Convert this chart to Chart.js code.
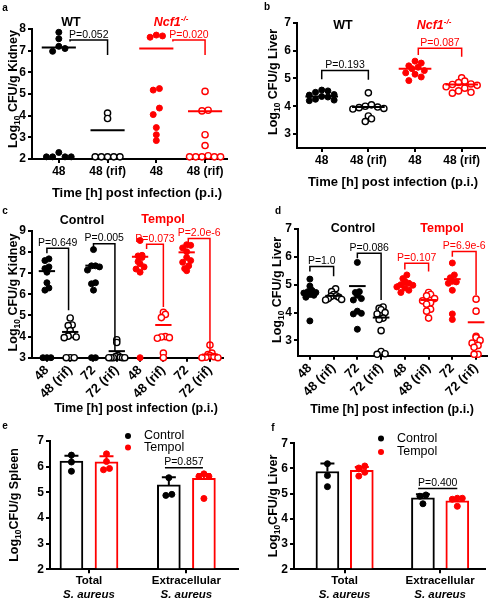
<!DOCTYPE html>
<html>
<head>
<meta charset="utf-8">
<script src="https://cdn.jsdelivr.net/npm/chart.js@4.4.1/dist/chart.umd.min.js"></script>
<style>
  body { margin: 0; background: #fff; }
  #fig { position: relative; width: 494px; height: 600px; overflow: hidden; font-family: "Liberation Sans", Arial, sans-serif; }
  #fig canvas { position: absolute; }
  .t { position: absolute; transform: translate(-50%, -50%); font-weight: bold; white-space: nowrap; line-height: 1; color: #000; }
  .let { font-size: 10px; }
  .hd { font-size: 12.5px; }
  .red { color: #ff0000; }
  .t sup { font-size: 8px; vertical-align: 5px; line-height: 0; }
</style>
</head>
<body>
<div id="fig">
  <canvas id="cA" width="247" height="200" style="left:0;top:0"></canvas>
  <canvas id="cB" width="247" height="200" style="left:247px;top:0"></canvas>
  <canvas id="cC" width="247" height="216" style="left:0;top:200px"></canvas>
  <canvas id="cD" width="247" height="216" style="left:247px;top:200px"></canvas>
  <canvas id="cE" width="247" height="184" style="left:0;top:416px"></canvas>
  <canvas id="cF" width="247" height="184" style="left:247px;top:416px"></canvas>

  <div class="t let" style="left:5px;top:8px">a</div>
  <div class="t let" style="left:267px;top:7px">b</div>
  <div class="t let" style="left:5px;top:211px">c</div>
  <div class="t let" style="left:278px;top:211px">d</div>
  <div class="t let" style="left:5px;top:426px">e</div>
  <div class="t let" style="left:273px;top:428px">f</div>

  <div class="t hd" style="left:71px;top:22px">WT</div>
  <div class="t hd red" style="left:171px;top:22px"><i>Ncf1<sup>-/-</sup></i></div>
  <div class="t hd" style="left:343px;top:25px">WT</div>
  <div class="t hd red" style="left:434px;top:25px"><i>Ncf1<sup>-/-</sup></i></div>
  <div class="t hd" style="left:82px;top:220px">Control</div>
  <div class="t hd red" style="left:163px;top:219px">Tempol</div>
  <div class="t hd" style="left:353px;top:228px">Control</div>
  <div class="t hd red" style="left:442px;top:228px">Tempol</div>
</div>
<script>
const RED = "#ff0000";
const BLACK = "#000000";
const FONT = '"Liberation Sans", Arial, sans-serif';

// ---- a: kidney, WT vs Ncf1-/- ----
const catsA = ["48", "48 (rif)", "48", "48 (rif)"];
const yTicksA = [2, 3, 4, 5, 6, 7, 8];
const aWt48 = [7.85, 7.55, 7.2, 7.1, 6.97, 2.3, 2.1, 2.1, 2.1, 2.1];
const aWtRif = [4.12, 3.87, 2.1, 2.1, 2.1, 2.1, 2.1];
const aNcf48 = [7.72, 7.62, 7.68, 5.25, 5.18, 4.35, 4.05, 3.45, 3.12, 2.85];
const aNcfRif = [5.12, 4.25, 4.22, 3.12, 2.62, 2.15, 2.1, 2.1, 2.1, 2.1, 2.1];
const meansA = [7.15, 3.33, 7.1, 4.2];
const pA = ["P=0.052", "P=0.020"];

// ---- b: liver, WT vs Ncf1-/- ----
const catsB = ["48", "48 (rif)", "48", "48 (rif)"];
const yTicksB = [3, 4, 5, 6, 7];
const bWt48 = [4.58, 4.55, 4.5, 4.42, 4.4, 4.35, 4.33, 4.25, 4.22, 4.2];
const bWtRif = [4.48, 4.05, 4.0, 3.97, 3.95, 3.92, 3.9, 3.65, 3.55, 3.45];
const bNcf48 = [5.62, 5.55, 5.45, 5.4, 5.35, 5.28, 5.2, 5.15, 5.05, 4.92];
const bNcfRif = [5.02, 4.9, 4.85, 4.8, 4.78, 4.75, 4.7, 4.65, 4.55, 4.5, 4.47];
const meansB = [4.35, 3.97, 5.35, 4.78];
const pB = ["P=0.193", "P=0.087"];

// ---- c: kidney, Control vs Tempol ----
const catsC = ["48", "48 (rif)", "72", "72 (rif)", "48", "48 (rif)", "72", "72 (rif)"];
const yTicksC = [3, 4, 5, 6, 7, 8, 9];
const cCtl48 = [7.68, 7.6, 7.3, 7.22, 7.05, 6.55, 6.3, 6.2, 3.0, 3.0, 3.0];
const cCtl48r = [4.88, 4.55, 4.52, 4.28, 4.1, 4.02, 3.98, 3.95, 3.0, 3.0, 3.0];
const cCtl72 = [8.12, 7.35, 7.35, 7.3, 7.15, 6.55, 6.5, 6.2, 3.0, 3.0];
const cCtl72r = [3.85, 3.72, 3.1, 3.05, 3.02, 3.0, 3.0, 3.0, 3.0, 3.0];
const cTem48 = [8.55, 7.85, 7.82, 7.75, 7.55, 7.45, 7.3, 7.2, 7.05, 3.0];
const cTem48r = [5.15, 5.05, 4.9, 4.0, 3.98, 3.95, 3.92, 3.22, 3.0];
const cTem72 = [8.35, 8.32, 8.2, 8.02, 7.75, 7.6, 7.52, 7.35, 7.22, 7.12];
const cTem72r = [3.6, 3.22, 3.15, 3.1, 3.05, 3.02, 3.0, 3.0];
const meansC = [7.1, 4.22, 7.36, 3.31, 7.78, 4.55, 7.99, 3.15];
const pC = ["P=0.649", "P=0.005", "P=0.073", "P=2.0e-6"];

// ---- d: liver, Control vs Tempol ----
const catsD = catsC;
const yTicksD = [3, 4, 5, 6, 7];
const dCtl48 = [5.2, 4.95, 4.8, 4.75, 4.72, 4.7, 4.65, 4.62, 4.55, 3.7];
const dCtl48r = [4.85, 4.75, 4.65, 4.6, 4.58, 4.55, 4.5, 4.47, 4.45];
const dCtl72 = [5.8, 4.75, 4.72, 4.62, 4.5, 4.45, 4.05, 3.97, 3.95, 3.4];
const dCtl72r = [4.2, 4.15, 4.1, 4.0, 3.95, 3.8, 3.75, 3.35, 2.6, 2.52, 2.5];
const dTem48 = [5.35, 5.22, 5.12, 5.05, 5.0, 4.98, 4.92, 4.88, 4.8, 4.72];
const dTem48r = [4.72, 4.65, 4.6, 4.5, 4.42, 4.35, 4.3, 4.12, 4.05, 3.8];
const dTem72 = [5.78, 5.35, 5.25, 5.12, 5.1, 5.05, 4.8, 3.95, 3.75];
const dTem72r = [4.48, 4.05, 3.15, 3.1, 3.0, 2.9, 2.82, 2.75, 2.5, 2.5];
const meansD = [4.75, 4.6, 4.95, 3.82, 5.02, 4.45, 5.2, 3.65];
const pD = ["P=1.0", "P=0.086", "P=0.107", "P=6.9e-6"];

// ---- e / f: bars, total vs extracellular ----
const barGroups = ["Total", "Extracellular"];
const barSub = "S. aureus";
const legendNames = ["Control", "Tempol"];
const yTicksEF = [2, 3, 4, 5, 6, 7];
const eCtlBar = [6.22, 5.29];
const eCtlSd = [0.21, 0.3];
const eTemBar = [6.19, 5.55];
const eTemSd = [0.22, 0.16];
const eCtlPts = [[6.45, 6.18, 5.82], [5.57, 4.88, 4.92]];
const eTemPts = [[6.5, 6.2, 5.93, 5.88], [5.62, 5.62, 5.72, 4.76]];
const pE = "P=0.857";
const fCtlBar = [5.88, 4.84];
const fCtlSd = [0.32, 0.14];
const fTemBar = [5.93, 4.72];
const fTemSd = [0.13, 0.09];
const fCtlPts = [[6.19, 5.72, 5.28], [4.95, 4.9, 4.6]];
const fTemPts = [[6.1, 6.02, 5.85, 5.7], [4.82, 4.82, 4.78, 4.5]];
const pF = "P=0.400";

// Prism-like scatter: points falling in the same height bin sit side by side
function rowOffsets(values, pxX, pxY, maxRow, step) {
  const bins = {};
  values.forEach((v, k) => {
    const b = Math.round((v * pxY) / 7);
    (bins[b] = bins[b] || []).push(k);
  });
  const offs = values.map(() => 0);
  Object.values(bins).forEach(ks => {
    const n = ks.length;
    if (n < 2) return;
    const s = Math.min(step, maxRow / (n - 1));
    ks.sort((p, q) => values[q] - values[p]);
    const mid = (n - 1) / 2;
    const slots = [];
    for (let j = 0; j < n; j++) slots.push(j);
    slots.sort((p, q) => Math.abs(p - mid) - Math.abs(q - mid) || q - p);
    ks.forEach((k, j) => { offs[k] = ((slots[j] - mid) * s) / pxX; });
  });
  return offs;
}

function boldFont(size) {
  return { family: FONT, size: size, weight: "bold" };
}

function baseScales(p, xTickCb, rot) {
  const grid = { drawOnChartArea: false, color: BLACK, lineWidth: 2, tickLength: 4, offset: false };
  const border = { color: BLACK, width: 2 };
  return {
    x: {
      type: "linear", min: p.xr[0], max: p.xr[1], offset: false,
      afterBuildTicks: s => { s.ticks = p.xTicks.map(v => ({ value: v })); },
      afterFit: s => { s.height = p.box.t + p.box.h - p.area.b; },
      ticks: { callback: xTickCb, autoSkip: false, maxRotation: rot, minRotation: rot, color: BLACK, font: boldFont(rot ? 13 : 12), padding: 1 },
      grid: grid, border: border,
    },
    y: {
      min: p.yr[0], max: p.yr[1], offset: false,
      afterBuildTicks: s => { s.ticks = p.yTicks.map(v => ({ value: v })); },
      afterFit: s => { s.width = p.area.l - p.box.l; },
      ticks: { color: BLACK, font: boldFont(12), padding: 2 },
      grid: grid, border: border,
    },
  };
}

function baseOptions(p, scales) {
  return {
    responsive: false,
    animation: false,
    events: [],
    layout: { padding: { top: p.area.t - p.box.t, right: p.box.l + p.box.w - p.area.r, left: 0, bottom: 0 } },
    plugins: { legend: { display: false }, tooltip: { enabled: false } },
    scales: scales,
  };
}

function drawYTitle(ctx, cx, cy, rest) {
  ctx.save();
  ctx.translate(cx, cy);
  ctx.rotate(-Math.PI / 2);
  const big = "bold 12.5px " + FONT, small = "bold 8.5px " + FONT;
  ctx.font = big;
  const w1 = ctx.measureText("Log").width, w3 = ctx.measureText(rest).width;
  ctx.font = small;
  const w2 = ctx.measureText("10").width;
  const sx = -(w1 + w2 + w3) / 2;
  ctx.fillStyle = BLACK;
  ctx.textAlign = "left";
  ctx.textBaseline = "alphabetic";
  ctx.font = big; ctx.fillText("Log", sx, 4.5);
  ctx.font = small; ctx.fillText("10", sx + w1, 7.5);
  ctx.font = big; ctx.fillText(rest, sx + w1 + w2, 4.5);
  ctx.restore();
}

function drawBracket(ctx, x, y, b) {
  const xa = x.getPixelForValue(b.x1), xb = x.getPixelForValue(b.x2), yt = y.getPixelForValue(b.y);
  ctx.strokeStyle = b.color;
  ctx.lineWidth = 1.5;
  ctx.beginPath();
  ctx.moveTo(xa, b.y1 == null ? yt : y.getPixelForValue(b.y1));
  ctx.lineTo(xa, yt);
  ctx.lineTo(xb, yt);
  ctx.lineTo(xb, b.y2 == null ? yt : y.getPixelForValue(b.y2));
  ctx.stroke();
  ctx.fillStyle = b.color;
  ctx.font = "10.5px " + FONT;
  ctx.textAlign = "center";
  ctx.textBaseline = "alphabetic";
  ctx.fillText(b.text, (xa + xb) / 2, yt - 2.5);
}

function overlay(p) {
  return {
    id: "overlay",
    beforeDatasetsDraw(chart) {
      if (!p.errors) return;
      const { ctx, scales: { x, y } } = chart;
      ctx.save();
      p.errors.forEach(e => {
        const cx = x.getPixelForValue(e.x), y0 = y.getPixelForValue(e.mean), y1 = y.getPixelForValue(e.mean + e.sd);
        ctx.strokeStyle = e.color;
        ctx.lineWidth = 2;
        ctx.beginPath();
        ctx.moveTo(cx, y0); ctx.lineTo(cx, y1);
        ctx.moveTo(cx - 7, y1); ctx.lineTo(cx + 7, y1);
        ctx.stroke();
      });
      ctx.restore();
    },
    afterDatasetsDraw(chart) {
      const { ctx, scales: { x, y } } = chart;
      ctx.save();
      (p.means || []).forEach((m, i) => {
        const ym = y.getPixelForValue(m);
        ctx.strokeStyle = p.groups[i].color;
        ctx.lineWidth = 2;
        ctx.beginPath();
        ctx.moveTo(x.getPixelForValue(i - 0.35), ym);
        ctx.lineTo(x.getPixelForValue(i + 0.35), ym);
        ctx.stroke();
      });
      p.brackets.forEach(b => drawBracket(ctx, x, y, b));
      if (p.xTitle) {
        ctx.fillStyle = BLACK;
        ctx.font = "bold " + p.xTitle.size + "px " + FONT;
        ctx.textAlign = "center";
        ctx.textBaseline = "middle";
        ctx.fillText(p.xTitle.text, p.xTitle.x - p.box.l, p.xTitle.y - p.box.t);
      }
      drawYTitle(ctx, p.yTitle.x - p.box.l, p.yTitle.y - p.box.t, p.yTitle.text);
      if (p.cats2) {
        ctx.fillStyle = BLACK;
        ctx.textAlign = "center";
        ctx.textBaseline = "middle";
        p.cats2.forEach((c, i) => {
          const cx = x.getPixelForValue(i);
          ctx.font = "bold 11.5px " + FONT;
          ctx.fillText(c, cx, p.catY[0] - p.box.t);
          ctx.font = "italic bold 11.5px " + FONT;
          ctx.fillText(barSub, cx, p.catY[1] - p.box.t);
        });
      }
      if (p.legend) {
        ctx.textAlign = "left";
        ctx.textBaseline = "middle";
        ctx.font = "12.5px " + FONT;
        p.legend.items.forEach((it, k) => {
          const lx = p.legend.x - p.box.l, ly = p.legend.y[k] - p.box.t;
          ctx.fillStyle = it.color;
          ctx.beginPath();
          ctx.arc(lx, ly, 3, 0, Math.PI * 2);
          ctx.fill();
          ctx.fillStyle = BLACK;
          ctx.fillText(it.name, lx + p.legend.gap, ly);
        });
      }
      ctx.restore();
    },
  };
}

function scatterPanel(p) {
  const pxX = (p.area.r - p.area.l) / (p.xr[1] - p.xr[0]);
  const pxY = (p.area.b - p.area.t) / (p.yr[1] - p.yr[0]);
  p.xTicks = p.cats.map((c, i) => i);
  const datasets = p.groups.map((g, i) => {
    const offs = rowOffsets(g.values, pxX, pxY, p.maxRow, p.step);
    return {
      data: g.values.map((v, k) => ({ x: i + offs[k], y: v })),
      pointRadius: g.open ? 3.1 : 3,
      pointBackgroundColor: g.open ? "#ffffff" : g.color,
      pointBorderColor: g.color,
      pointBorderWidth: g.open ? 1.4 : 1,
      showLine: false,
      clip: false,
    };
  });
  const scales = baseScales(p, v => p.cats[v] ?? "", p.rot);
  new Chart(document.getElementById(p.id), {
    type: "scatter",
    data: { datasets: datasets },
    options: baseOptions(p, scales),
    plugins: [overlay(p)],
  });
}

function barPanel(p) {
  const pxX = (p.area.r - p.area.l) / (p.xr[1] - p.xr[0]);
  const pxY = (p.area.b - p.area.t) / (p.yr[1] - p.yr[0]);
  const off = 0.18;
  p.xTicks = barGroups.map((g, i) => i);
  p.cats2 = barGroups;
  const series = [
    { name: legendNames[0], color: BLACK, bars: p.ctlBar, sd: p.ctlSd, pts: p.ctlPts, dx: -off },
    { name: legendNames[1], color: RED, bars: p.temBar, sd: p.temSd, pts: p.temPts, dx: off },
  ];
  const datasets = [];
  p.errors = [];
  series.forEach(s => {
    const dots = [];
    s.pts.forEach((vals, i) => {
      const offs = rowOffsets(vals, pxX, pxY, 10, 6);
      vals.forEach((v, k) => dots.push({ x: i + s.dx + offs[k], y: v }));
    });
    datasets.push({
      type: "scatter", data: dots, order: 1, clip: false, showLine: false,
      pointRadius: 3, pointBackgroundColor: s.color, pointBorderColor: s.color, pointBorderWidth: 1,
    });
    datasets.push({
      type: "bar", order: 2, grouped: false, base: p.yr[0],
      data: s.bars.map((v, i) => ({ x: i + s.dx, y: v })),
      backgroundColor: "#ffffff", borderColor: s.color, borderWidth: 2, borderSkipped: "start", barThickness: 23,
    });
    s.bars.forEach((v, i) => p.errors.push({ x: i + s.dx, mean: v, sd: s.sd[i], color: s.color }));
  });
  p.legend.items = series.map(s => ({ name: s.name, color: s.color }));
  const scales = baseScales(p, () => "", 0);
  new Chart(document.getElementById(p.id), {
    type: "bar",
    data: { datasets: datasets },
    options: baseOptions(p, scales),
    plugins: [overlay(p)],
  });
}

function fourGroups(v1, v2, v3, v4) {
  return [
    { values: v1, color: BLACK, open: false },
    { values: v2, color: BLACK, open: true },
    { values: v3, color: RED, open: false },
    { values: v4, color: RED, open: true },
  ];
}

function eightGroups(ctl, tem) {
  return fourGroups(ctl[0], ctl[1], ctl[2], ctl[3])
    .concat(fourGroups(tem[0], tem[1], tem[2], tem[3]))
    .map((g, i) => ({ values: g.values, open: g.open, color: i < 4 ? BLACK : RED }));
}

const xTitleText = "Time [h] post infection (p.i.)";

scatterPanel({
  id: "cA", box: { l: 0, t: 0, w: 247, h: 200 }, area: { l: 32, r: 227, t: 29, b: 159 },
  xr: [-0.55, 3.45], yr: [2, 8], yTicks: yTicksA, cats: catsA, rot: 0, maxRow: 36, step: 6.2,
  groups: fourGroups(aWt48, aWtRif, aNcf48, aNcfRif), means: meansA,
  brackets: [
    { x1: 0.23, x2: 1, y: 7.49, y1: 7.42, y2: 6.8, text: pA[0], color: BLACK },
    { x1: 2.34, x2: 3, y: 7.49, y1: 7.42, y2: 6.8, text: pA[1], color: RED },
  ],
  xTitle: { text: xTitleText, x: 137, y: 193, size: 13 },
  yTitle: { text: " CFU/g Kidney", x: 12.5, y: 89 },
});

scatterPanel({
  id: "cB", box: { l: 247, t: 0, w: 247, h: 200 }, area: { l: 297, r: 485, t: 22.7, b: 148 },
  xr: [-0.53, 3.5], yr: [2.5, 7], yTicks: yTicksB, cats: catsB, rot: 0, maxRow: 32, step: 6.2,
  groups: fourGroups(bWt48, bWtRif, bNcf48, bNcfRif), means: meansB,
  brackets: [
    { x1: 0, x2: 1, y: 5.28, y1: 4.97, y2: 4.95, text: pB[0], color: BLACK },
    { x1: 2.07, x2: 3, y: 6.08, y1: 5.84, y2: 5.78, text: pB[1], color: RED },
  ],
  xTitle: { text: xTitleText, x: 393, y: 182, size: 13 },
  yTitle: { text: " CFU/g Liver", x: 272.5, y: 82 },
});

scatterPanel({
  id: "cC", box: { l: 0, t: 200, w: 247, h: 216 }, area: { l: 32, r: 223, t: 231, b: 357.7 },
  xr: [-0.64, 7.56], yr: [3, 9], yTicks: yTicksC, cats: catsC, rot: 45, maxRow: 16, step: 4,
  groups: eightGroups([cCtl48, cCtl48r, cCtl72, cCtl72r], [cTem48, cTem48r, cTem72, cTem72r]),
  means: meansC,
  brackets: [
    { x1: 0, x2: 0.93, y: 8.18, y1: 7.95, y2: 5.25, text: pC[0], color: BLACK },
    { x1: 2, x2: 2.92, y: 8.4, y1: 8.2, y2: 3.28, text: pC[1], color: BLACK },
    { x1: 4.28, x2: 5, y: 8.37, y1: 8.15, y2: 5.4, text: pC[2], color: RED },
    { x1: 6.07, x2: 7, y: 8.65, y1: 8.45, y2: 3.3, text: pC[3], color: RED },
  ],
  xTitle: { text: xTitleText, x: 136, y: 409, size: 12.5 },
  yTitle: { text: " CFU/g Kidney", x: 12.5, y: 292.5 },
});

scatterPanel({
  id: "cD", box: { l: 247, t: 200, w: 247, h: 216 }, area: { l: 298, r: 487, t: 229, b: 355.7 },
  xr: [-0.5, 7.46], yr: [2.45, 7], yTicks: yTicksD, cats: catsD, rot: 45, maxRow: 16, step: 4,
  groups: eightGroups([dCtl48, dCtl48r, dCtl72, dCtl72r], [dTem48, dTem48r, dTem72, dTem72r]),
  means: meansD,
  brackets: [
    { x1: 0, x2: 1, y: 5.65, y1: 5.47, y2: 5.3, text: pD[0], color: BLACK },
    { x1: 2, x2: 3, y: 6.13, y1: 5.95, y2: 4.45, text: pD[1], color: BLACK },
    { x1: 4, x2: 5, y: 5.77, y1: 5.55, y2: 5.47, text: pD[2], color: RED },
    { x1: 6, x2: 7, y: 6.19, y1: 6.0, y2: 4.63, text: pD[3], color: RED },
  ],
  xTitle: { text: xTitleText, x: 392, y: 410, size: 12.5 },
  yTitle: { text: " CFU/g Liver", x: 276, y: 290 },
});

barPanel({
  id: "cE", box: { l: 0, t: 416, w: 247, h: 184 }, area: { l: 50, r: 238, t: 441, b: 569.3 },
  xr: [-0.4, 1.53], yr: [2, 7], yTicks: yTicksEF,
  ctlBar: eCtlBar, ctlSd: eCtlSd, temBar: eTemBar, temSd: eTemSd, ctlPts: eCtlPts, temPts: eTemPts,
  brackets: [{ x1: 0.78, x2: 1.17, y: 5.96, text: pE, color: BLACK }],
  catY: [581, 595],
  legend: { x: 128, y: [436, 447.5], gap: 16 },
  yTitle: { text: "CFU/g Spleen", x: 13, y: 505 },
});

barPanel({
  id: "cF", box: { l: 247, t: 416, w: 247, h: 184 }, area: { l: 294, r: 485, t: 443.3, b: 569.3 },
  xr: [-0.53, 1.47], yr: [2, 7], yTicks: yTicksEF,
  ctlBar: fCtlBar, ctlSd: fCtlSd, temBar: fTemBar, temSd: fTemSd, ctlPts: fCtlPts, temPts: fTemPts,
  brackets: [{ x1: 0.77, x2: 1.18, y: 5.21, text: pF, color: BLACK }],
  catY: [581, 595],
  legend: { x: 381, y: [438.5, 452], gap: 16 },
  yTitle: { text: "CFU/g Liver", x: 272.5, y: 506 },
});
</script>
</body>
</html>
